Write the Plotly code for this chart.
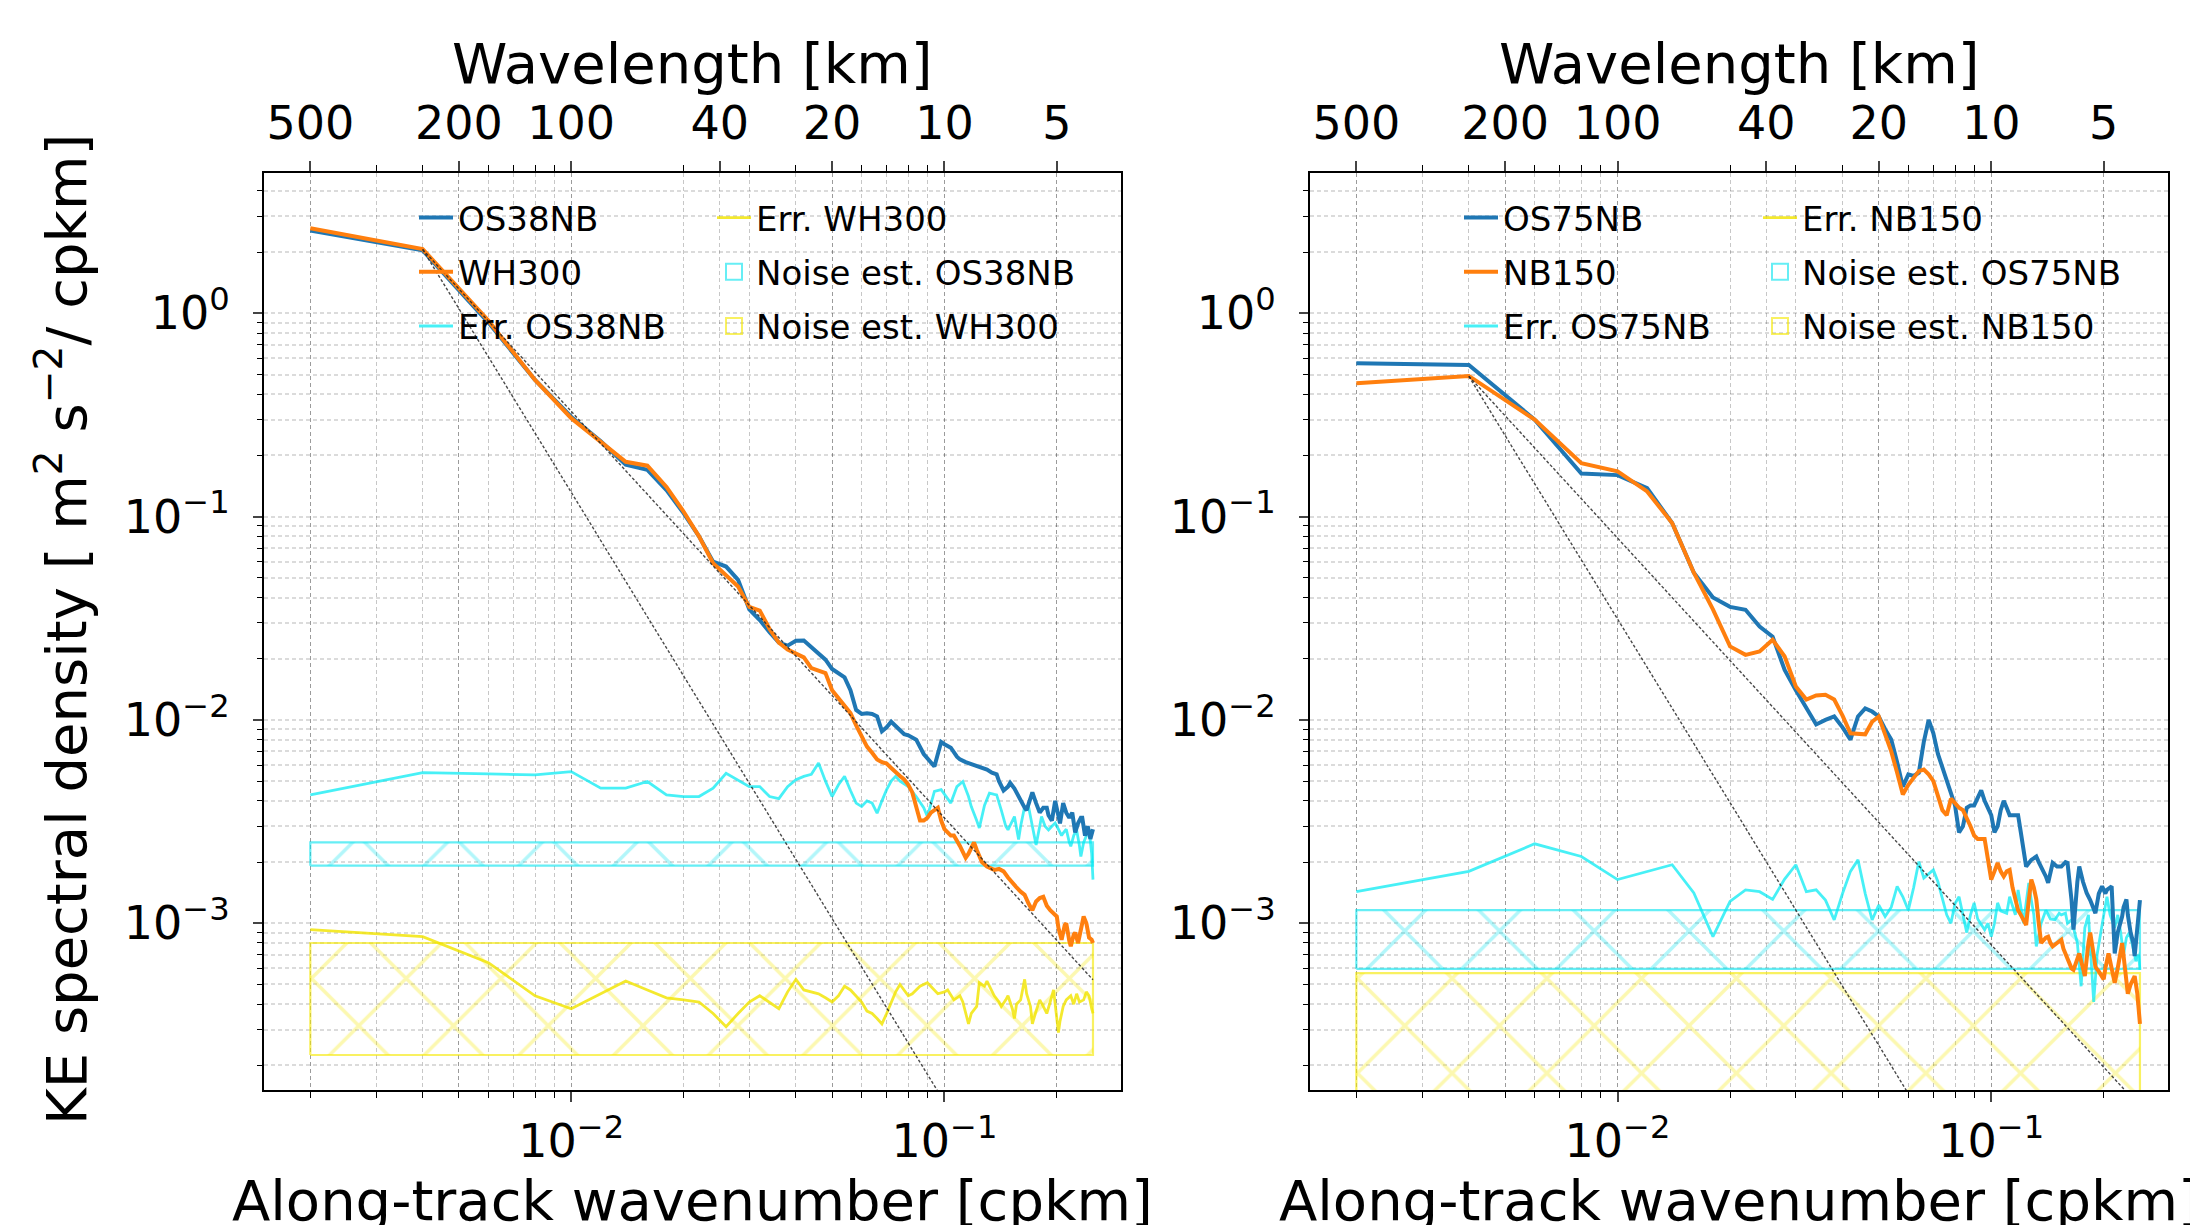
import plotly.graph_objects as go

FONT = "DejaVu Sans"
DK = 0.002  # wavenumber resolution of 500 km segments [cpkm]

# ---------------- Left panel (OS38NB / WH300) ----------------
bins_os38nb = [1,2,3,4,5,6,7,8,9,10,11,12,13,14,15,16,17,18,19,20,21,22,23,24,25,26,27,28,29,30,
               31,32,33,34,35,36,37,38,39,40,42,44,46,47,48,49,50,52,54,55,57,60,62,65,67,69,70,72,74,75,
               77,79,80,82,83,85,86,88,90,92,94,95,97,99,101,102,104,106,108,110,112,114,116,117,119,121,123,125]
ke_os38nb = [2.55,2.04,0.90,0.47,0.31,0.235,0.180,0.170,0.135,0.104,0.080,0.060,0.0568,0.0489,0.0350,0.0310,0.0270,0.0240,0.0232,0.0245,
             0.0246,0.0228,0.0215,0.0198,0.0178,0.0170,0.0162,0.0140,0.0112,0.0107,
             0.0108,0.0107,0.0104,0.0088,0.0092,0.0098,0.0093,0.0088,0.0085,0.0084,0.0080,0.0068,0.0062,0.0059,0.0068,0.0078,0.0076,0.0073,0.0066,0.0064,
             0.0062,0.0060,0.0059,0.0057,0.0055,0.0054,0.0050,0.0045,0.0047,0.0049,
             0.0046,0.0042,0.0040,0.0037,0.0036,0.0042,0.0044,0.0039,0.0035,0.0037,0.0037,0.0034,0.0032,0.0040,0.0034,0.0031,0.0039,0.0035,0.0033,0.0035,
             0.0028,0.0031,0.0033,0.0033,0.0027,0.0030,0.0026,0.0029]

bins_wh300 = [1,2,3,4,5,6,7,8,9,10,11,12,13,14,15,16,17,18,19,20,21,22,23,24,25,26,27,28,29,30,
              31,32,33,34,35,36,37,38,39,40,41,42,43,44,45,46,48,49,50,52,53,55,57,58,60,61,63,65,68,70,
              72,74,76,78,80,82,84,86,88,90,92,94,96,98,100,101,103,105,106,108,109,111,112,114,116,118,120,122,124,125]
ke_wh300 = [2.62,2.07,0.92,0.47,0.305,0.235,0.186,0.178,0.140,0.106,0.080,0.059,0.0517,0.0453,0.0360,0.0345,0.0280,0.0240,0.0222,0.0212,
            0.0203,0.0180,0.0175,0.0170,0.0140,0.0128,0.0118,0.0108,0.0094,0.0084,
            0.0074,0.0069,0.0064,0.0062,0.0061,0.0058,0.0055,0.0053,0.0051,0.0048,0.0044,0.0037,0.0032,0.0032,0.0033,0.0035,0.0037,0.0032,0.0029,0.0027,
            0.0027,0.0024,0.0021,0.0022,0.0025,0.0023,0.0020,0.0019,0.00183,0.00185,
            0.00180,0.00168,0.00158,0.00150,0.00143,0.00138,0.00125,0.00116,0.00128,0.00133,0.00135,0.00122,0.00116,0.00112,0.00108,0.00095,0.00083,0.00098,0.00100,0.00082,
            0.00077,0.00088,0.00090,0.00080,0.00095,0.00108,0.00100,0.00085,0.00083,0.00080]

bins_err_os38nb = [1,2,3,4,5,6,7,8,9,10,11,12,13,14,15,16,17,18,19,20,21,22,23,24,25,26,27,28,29,30,
                   31,32,33,34,35,36,37,38,40,42,44,45,47,49,51,52,54,56,58,59,61,62,64,66,68,69,71,73,74,76,
                   77,79,80,82,84,86,88,90,91,93,95,97,99,101,103,104,106,108,109,111,113,115,116,118,120,122,124,125]
err_os38nb = [0.00428,0.00551,0.00543,0.00537,0.00557,0.00462,0.00462,0.00498,0.00428,0.00420,0.00420,0.00462,0.00547,0.00508,0.00470,0.00470,0.00420,0.00410,0.00470,0.00508,
              0.00528,0.00540,0.00614,0.00500,0.00420,0.00480,0.00528,0.00450,0.00390,0.00375,
              0.00400,0.00390,0.00348,0.00400,0.00454,0.00500,0.00528,0.00500,0.00470,0.00420,0.00370,0.00335,0.00445,0.00454,0.00410,0.00390,0.00470,0.00498,0.00420,0.00375,
              0.00320,0.00294,0.00380,0.00436,0.00430,0.00428,0.00360,0.00300,0.00288,0.00320,
              0.00335,0.00258,0.00300,0.00375,0.00375,0.00300,0.00243,0.00300,0.00335,0.00300,0.00288,0.00300,0.00311,0.00290,0.00270,0.00278,0.00290,0.00250,0.00239,0.00270,
              0.00288,0.00240,0.00213,0.00250,0.00267,0.00290,0.00220,0.00164]

bins_err_wh300 = [1,2,3,4,5,6,7,8,9,10,11,12,13,14,15,16,17,18,19,20,21,22,23,24,25,26,27,28,29,30,
                  31,32,33,34,35,36,37,38,39,40,41,42,43,45,46,48,50,51,53,55,56,58,59,61,62,64,65,67,68,70,
                  71,73,74,76,77,78,80,82,83,85,86,88,90,92,94,96,98,99,101,102,104,106,109,111,113,115,118,120,122,124,125]
err_wh300 = [0.00093,0.00086,0.00064,0.00044,0.00038,0.00045,0.00052,0.00047,0.00043,0.00042,0.00041,0.00036,0.00031,0.00036,0.00041,0.00044,0.00041,0.00038,0.00046,0.00053,
             0.00047,0.00046,0.00045,0.00043,0.00041,0.00044,0.00049,0.00047,0.00044,0.00041,
             0.00037,0.00036,0.00034,0.00032,0.00036,0.00041,0.00046,0.00050,0.00047,0.00044,0.00045,0.00047,0.00049,0.00051,0.00049,0.00045,0.00046,0.00047,0.00042,0.00044,
             0.00041,0.00032,0.00036,0.00039,0.00051,0.00049,0.00052,0.00046,0.00044,0.00041,
             0.00039,0.00042,0.00044,0.00038,0.00034,0.00040,0.00042,0.00053,0.00045,0.00039,0.00032,0.00037,0.00042,0.00039,0.00036,0.00041,0.00047,0.00040,0.00029,0.00033,
             0.00039,0.00042,0.00044,0.00040,0.00045,0.00041,0.00042,0.00046,0.00044,0.00038,0.00036]

noise_os38nb = [0.00192, 0.00250]   # hatched band (low, high)
noise_wh300 = [0.000225, 0.00080]

# ---------------- Right panel (OS75NB / NB150) ----------------
bins_os75nb = [1,2,3,4,5,6,7,8,9,10,11,12,13,14,15,16,17,18,19,20,21,22,23,24,25,26,27,28,29,30,
               31,32,33,34,35,36,37,38,39,40,41,42,43,44,45,46,47,48,49,50,51,52,53,54,55,56,58,59,60,61,
               62,64,66,67,68,70,71,73,75,77,79,80,82,83,85,86,88,90,92,95,97,99,101,102,104,105,107,109,112,113,
               115,116,118,120,121,123,124,125]
ke_os75nb = [0.568,0.557,0.30,0.163,0.160,0.138,0.093,0.053,0.040,0.036,0.0348,0.0288,0.0257,0.0176,0.0140,0.0115,0.0095,0.0100,0.0104,0.0092,
             0.0080,0.0104,0.0114,0.0110,0.0104,0.0090,0.0080,0.0062,0.0047,0.0054,
             0.0053,0.0055,0.0078,0.0100,0.0086,0.0068,0.0058,0.0050,0.0044,0.0038,0.0028,0.0030,0.0037,0.0038,0.0038,0.0042,0.0045,0.0040,0.0037,0.0034,
             0.0028,0.0030,0.0036,0.0040,0.0037,0.0034,0.0034,0.0034,0.0028,0.0022,
             0.0019,0.00205,0.00213,0.0020,0.0019,0.0017,0.00158,0.00198,0.0019,0.0019,0.0020,0.00198,0.0013,0.00093,0.0016,0.0019,0.0016,0.00141,0.0013,0.00112,
             0.0014,0.00152,0.0014,0.00146,0.0015,0.00152,0.00071,0.0009,0.00108,0.0012,
             0.00131,0.0011,0.0009,0.0008,0.00069,0.0010,0.00123,0.0013]

bins_nb150 = [1,2,3,4,5,6,7,8,9,10,11,12,13,14,15,16,17,18,19,20,21,22,23,24,25,26,27,28,29,30,
              31,32,33,34,35,36,37,38,39,40,41,42,43,44,45,46,48,49,50,51,52,53,54,55,56,57,59,60,62,63,
              64,65,66,67,68,70,71,72,73,75,77,78,80,82,83,85,86,88,89,91,92,94,95,97,100,101,103,105,107,109,
              112,114,116,118,121,123,125]
ke_nb150 = [0.453,0.492,0.30,0.183,0.167,0.133,0.093,0.053,0.035,0.023,0.0209,0.0217,0.0248,0.0205,0.0146,0.0126,0.0132,0.0133,0.0126,0.0105,
            0.0086,0.0085,0.0085,0.0098,0.0104,0.0085,0.0070,0.0055,0.0043,0.0048,
            0.0052,0.0056,0.0057,0.0054,0.0050,0.0042,0.0036,0.0034,0.0041,0.0039,0.0037,0.0036,0.0033,0.0030,0.0027,0.0026,0.0026,0.0021,0.00164,0.0018,
            0.00198,0.0018,0.0017,0.0018,0.00183,0.0015,0.00116,0.0011,0.00098,0.0013,
            0.00164,0.0015,0.00131,0.0010,0.0008,0.00085,0.00086,0.0008,0.00077,0.0008,0.00083,0.00075,0.00066,0.0006,0.00059,0.00068,0.00071,0.0006,0.00055,0.0008,
            0.0009,0.0007,0.00061,0.00058,0.00053,0.0006,0.00071,0.0006,0.00051,0.0006,
            0.0008,0.0006,0.00045,0.0005,0.00055,0.00045,0.00032]

bins_err_os75nb = [1,2,3,4,5,6,7,8,9,10,11,12,13,14,15,16,17,18,19,20,21,22,23,24,25,26,27,28,29,30,
                   31,32,33,34,35,36,37,38,39,40,41,42,43,44,45,46,48,49,50,51,52,53,55,56,57,58,59,60,61,62,
                   63,64,65,66,67,68,70,72,74,76,77,79,80,82,83,85,87,88,89,91,93,94,96,98,100,102,104,107,109,111,
                   113,115,117,119,120,122,124,125]
err_os75nb = [0.00143,0.00180,0.00246,0.00213,0.00164,0.00180,0.00194,0.00141,0.00086,0.00128,0.00146,0.00143,0.00131,0.00165,0.00194,0.00143,0.00146,0.00130,0.00104,0.00140,
              0.00180,0.00205,0.00140,0.00104,0.00123,0.00108,0.00120,0.00152,0.00135,0.00116,
              0.00150,0.00201,0.00167,0.00175,0.00183,0.00160,0.00130,0.00110,0.00100,0.00125,0.00135,0.00110,0.00090,0.00110,0.00126,0.00105,0.00093,0.00100,0.00086,0.00100,
              0.00126,0.00115,0.00112,0.00135,0.00120,0.00110,0.00146,0.00120,0.00100,0.00126,
              0.00158,0.00130,0.00110,0.00077,0.00090,0.00100,0.00116,0.00105,0.00104,0.00112,0.00110,0.00112,0.00100,0.00104,0.00095,0.00080,0.00049,0.00070,0.00095,0.00110,
              0.00060,0.00041,0.00070,0.00090,0.00110,0.00135,0.00110,0.00095,0.00110,0.00090,
              0.00070,0.00085,0.00090,0.00080,0.00075,0.00065,0.00070,0.00059]

# Err. NB150 lies below the plotted range (not visible in the figure)
bins_err_nb150 = [1,2,4,8,15,25,40,60,80,100,125]
err_nb150 = [0.00012,0.00011,0.000095,0.00010,0.00009,0.000085,0.00009,0.00008,0.000085,0.00008,0.000075]

noise_os75nb = [0.000596, 0.00116]
noise_nb150 = [0.00008, 0.000569]

# reference slopes k^-3 and k^-2 anchored at the second wavenumber bin
ref_bin_start, ref_bin_end = 2, 125
ref_anchor_left = 2.06
ref_anchor_right = 0.49
ref_slopes = [-3, -2]

# axis ticks
wl_tick_km = [500, 200, 100, 40, 20, 10, 5]
wl_tick_text = ["500", "200", "100", "40", "20", "10", "5"]
k_major = [0.01, 0.1]
k_major_text = ["10<sup>\u22122</sup>", "10<sup>\u22121</sup>"]
k_minor = [0.002, 0.003, 0.004, 0.005, 0.006, 0.007, 0.008, 0.009,
           0.02, 0.03, 0.04, 0.05, 0.06, 0.07, 0.08, 0.09, 0.2]
y_major = [1, 0.1, 0.01, 0.001, 0.0001]
y_major_text = ["10<sup>0</sup>", "10<sup>\u22121</sup>", "10<sup>\u22122</sup>", "10<sup>\u22123</sup>", "10<sup>\u22124</sup>"]
y_minor = [m * d for d in (1e-4, 1e-3, 1e-2, 1e-1, 1) for m in (2, 3, 4, 5, 6, 7, 8, 9)]

# ---------------- styles ----------------
C_BLUE = "#1f77b4"
C_ORANGE = "#ff7f0e"
C_CYAN_LINE = "rgba(0,234,242,0.72)"
C_CYAN_HATCH = "rgba(0,226,238,0.6)"
C_YEL_LINE = "rgba(242,228,0,0.82)"
C_YEL_HATCH = "rgba(245,232,0,0.62)"
C_REF = "rgba(40,40,40,0.85)"

W, H = 2190, 1225
PX_L = (264, 1121)
PX_R = (1310, 2168)
PY = (173, 1090)
XR = [-2.823, -0.527]
YR = [-3.82, 0.69]


def kk(bins):
    return [b * DK for b in bins]


fig = go.Figure()


def add_panel(xa, ya, leg_a, leg_b, main1, main2, err1, err2, n1, n2, anchor):
    kmin, kmax = DK * 1, DK * 125
    # noise hatched bands (legend shown through open-square proxies)
    for (name, band, col, rank) in [n1 + (2,), n2 + (3,)]:
        fig.add_trace(go.Scatter(
            x=[kmin, kmax, kmax, kmin, kmin], y=[band[0], band[0], band[1], band[1], band[0]],
            mode="lines", fill="toself", fillcolor="rgba(0,0,0,0)",
            fillpattern=dict(shape="x", size=67, solidity=0.1, fgcolor=col, bgcolor="rgba(0,0,0,0)"),
            line=dict(color=col, width=2.2), name=name, showlegend=False,
            xaxis=xa, yaxis=ya, hoverinfo="skip"))
        fig.add_trace(go.Scatter(
            x=[None], y=[None], mode="markers", name=name, legend=leg_b, legendrank=rank, legendgroup=name,
            marker=dict(symbol="square-open", size=16, color=col, line=dict(width=2, color=col)),
            xaxis=xa, yaxis=ya))
    # error lines
    for (name, b, v, col, leg, rank) in [err1 + (leg_a, 3), err2 + (leg_b, 1)]:
        fig.add_trace(go.Scatter(x=kk(b), y=v, mode="lines", line=dict(color=col, width=2.8),
                                 name=name, legend=leg, legendrank=rank, legendgroup=name,
                                 xaxis=xa, yaxis=ya))
    # main spectra
    for (name, b, v, col, leg, rank) in [main1 + (leg_a, 1), main2 + (leg_a, 2)]:
        fig.add_trace(go.Scatter(x=kk(b), y=v, mode="lines", line=dict(color=col, width=4),
                                 name=name, legend=leg, legendrank=rank, legendgroup=name,
                                 xaxis=xa, yaxis=ya))
    # reference slope lines
    k0, k1 = ref_bin_start * DK, ref_bin_end * DK
    for s in ref_slopes:
        fig.add_trace(go.Scatter(x=[k0, k1], y=[anchor, anchor * (k1 / k0) ** s], mode="lines",
                                 line=dict(color=C_REF, width=1.4, dash="3px,2px"),
                                 showlegend=False, xaxis=xa, yaxis=ya, hoverinfo="skip"))


add_panel("x", "y", "legend", "legend2",
          ("OS38NB", bins_os38nb, ke_os38nb, C_BLUE), ("WH300", bins_wh300, ke_wh300, C_ORANGE),
          ("Err. OS38NB", bins_err_os38nb, err_os38nb, C_CYAN_LINE), ("Err. WH300", bins_err_wh300, err_wh300, C_YEL_LINE),
          ("Noise est. OS38NB", noise_os38nb, C_CYAN_HATCH), ("Noise est. WH300", noise_wh300, C_YEL_HATCH),
          ref_anchor_left)
add_panel("x2", "y2", "legend3", "legend4",
          ("OS75NB", bins_os75nb, ke_os75nb, C_BLUE), ("NB150", bins_nb150, ke_nb150, C_ORANGE),
          ("Err. OS75NB", bins_err_os75nb, err_os75nb, C_CYAN_LINE), ("Err. NB150", bins_err_nb150, err_nb150, C_YEL_LINE),
          ("Noise est. OS75NB", noise_os75nb, C_CYAN_HATCH), ("Noise est. NB150", noise_nb150, C_YEL_HATCH),
          ref_anchor_right)

# dummy traces so the top (wavelength) axes exist
for xa, ya in (("x3", "y"), ("x4", "y2")):
    fig.add_trace(go.Scatter(x=[0.01], y=[None], mode="lines", showlegend=False,
                             xaxis=xa, yaxis=ya, hoverinfo="skip"))

GRID_V = dict(color="rgba(0,0,0,0.22)", width=1.2, dash="4px,3px")
GRID_H = dict(color="rgba(0,0,0,0.14)", width=2, dash="4px,3px")
TICKFONT = dict(family=FONT, size=46, color="black")


def xbottom(dom):
    return dict(type="log", range=XR, domain=dom, showline=True, linecolor="black",
                linewidth=2, mirror=True, ticks="outside", ticklen=10, tickwidth=1.6,
                tickmode="array", tickvals=k_major, ticktext=k_major_text, tickfont=TICKFONT,
                showgrid=True, gridcolor=GRID_V["color"], gridwidth=GRID_V["width"], griddash=GRID_V["dash"],
                minor=dict(tickmode="array", tickvals=k_minor, ticks="outside", ticklen=6, tickwidth=1.2,
                           tickcolor="black", showgrid=True, gridcolor=GRID_V["color"],
                           gridwidth=GRID_V["width"], griddash=GRID_V["dash"]),
                zeroline=False, ticklabelstandoff=0)


def xtop(over):
    return dict(type="log", range=XR, overlaying=over, side="top", showline=True, linecolor="black",
                linewidth=2, ticks="outside", ticklen=10, tickwidth=1.6,
                tickmode="array", tickvals=[1.0 / w for w in wl_tick_km], ticktext=wl_tick_text,
                tickfont=TICKFONT, showgrid=True, gridcolor=GRID_V["color"], gridwidth=GRID_V["width"],
                griddash=GRID_V["dash"],
                minor=dict(tickmode="array", tickvals=[v for v in k_minor if all(abs(v - 1.0 / w) > 1e-9 for w in wl_tick_km)],
                           ticks="outside", ticklen=6, tickwidth=1.2, tickcolor="black", showgrid=False),
                zeroline=False, ticklabelstandoff=4)


def yaxis(anchor):
    return dict(type="log", range=YR, domain=[1 - PY[1] / H, 1 - PY[0] / H], anchor=anchor,
                showline=True, linecolor="black", linewidth=2, mirror=True, ticks="outside",
                ticklen=9, tickwidth=2, tickmode="array", tickvals=y_major, ticktext=y_major_text,
                tickfont=TICKFONT, showgrid=True, gridcolor=GRID_H["color"], gridwidth=GRID_H["width"],
                griddash=GRID_H["dash"],
                minor=dict(tickmode="array", tickvals=y_minor, ticks="outside", ticklen=5, tickwidth=1.2,
                           tickcolor="black", showgrid=True, gridcolor=GRID_H["color"],
                           gridwidth=GRID_H["width"], griddash=GRID_H["dash"]),
                zeroline=False, ticklabelstandoff=14)


xl = xbottom([PX_L[0] / W, PX_L[1] / W]); xl["anchor"] = "y"
xr = xbottom([PX_R[0] / W, PX_R[1] / W]); xr["anchor"] = "y2"
xt3 = xtop("x"); xt3["anchor"] = "y"
xt4 = xtop("x2"); xt4["anchor"] = "y2"


def legend(px_x, px_y):
    return dict(x=px_x / W, y=1 - px_y / H, xanchor="left", yanchor="top", bgcolor="rgba(0,0,0,0)",
                borderwidth=0, font=dict(family=FONT, size=34, color="black"),
                tracegroupgap=7, itemwidth=34, traceorder="grouped")


fig.update_layout(
    width=W, height=H, margin=dict(l=0, r=0, t=0, b=0), autosize=False,
    paper_bgcolor="white", plot_bgcolor="white", font=dict(family=FONT, color="black"),
    xaxis=xl, xaxis2=xr, xaxis3=xt3, xaxis4=xt4, yaxis=yaxis("x"), yaxis2=yaxis("x2"),
    legend=legend(414, 189), legend2=legend(712, 189),
    legend3=legend(1459, 189), legend4=legend(1758, 189),
    showlegend=True,
)

ann_font = dict(family=FONT, size=56, color="black")
cx_l = (PX_L[0] + PX_L[1]) / 2 / W
cx_r = (PX_R[0] + PX_R[1]) / 2 / W
for cx in (cx_l, cx_r):
    fig.add_annotation(text="Wavelength [km]", x=cx, y=1 - 64 / H, xref="paper", yref="paper",
                       showarrow=False, font=ann_font, xanchor="center", yanchor="middle")
    fig.add_annotation(text="Along-track wavenumber [cpkm]", x=cx, y=1 - 1200 / H, xref="paper", yref="paper",
                       showarrow=False, font=ann_font, xanchor="center", yanchor="middle")
fig.add_annotation(text="KE spectral density [ m<sup>2</sup> s<sup>\u22122</sup>/ cpkm]", x=63 / W, y=1 - 630 / H,
                   xref="paper", yref="paper", showarrow=False, font=ann_font, textangle=-90,
                   xanchor="center", yanchor="middle")

fig.write_html("out.html", config={"displayModeBar": False},
               post_script="document.body.style.margin='0';")
